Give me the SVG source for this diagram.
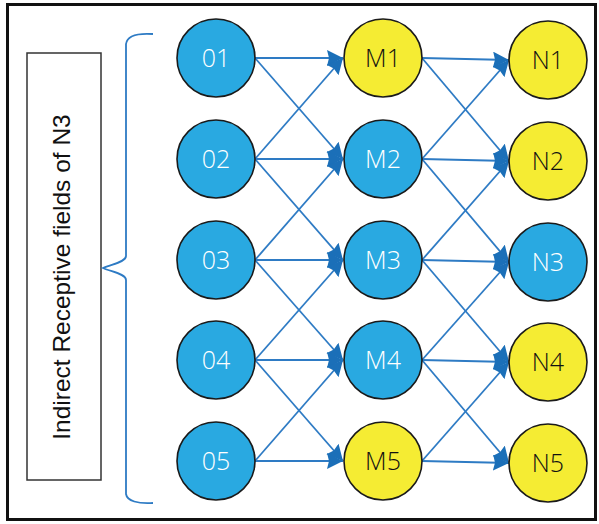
<svg xmlns="http://www.w3.org/2000/svg" width="599" height="524" viewBox="0 0 599 524">
<style>
.blue{fill:#29A9E1;stroke:#1a1a1a;stroke-width:1.6}
.yellow{fill:#F5EC33;stroke:#1a1a1a;stroke-width:1.6}
.tw{font-family:"Open Sans","Liberation Sans",sans-serif;font-size:25px;font-weight:300;fill:#ffffff;text-anchor:middle}
.tb{font-family:"Open Sans","Liberation Sans",sans-serif;font-size:25px;font-weight:300;fill:#111111;text-anchor:middle}
.edge{stroke:#2E7BC4;stroke-width:1.8;fill:none;marker-end:url(#ah)}
</style>
<defs>
<marker id="ah" markerUnits="userSpaceOnUse" markerWidth="20" markerHeight="18" refX="16" refY="8" orient="auto">
<path d="M0,0 L16,8 L0,16 L2,8 z" fill="#1B6FB8"/>
</marker>
</defs>
<rect x="0" y="0" width="599" height="524" fill="#ffffff"/>
<rect x="7.5" y="4.5" width="588" height="515" fill="none" stroke="#111111" stroke-width="3"/>
<g id="label">
<rect x="27" y="53" width="74" height="427" fill="#ffffff" stroke="#333333" stroke-width="1.5"/>
<text transform="translate(70,277) rotate(-90)" font-family="Liberation Sans, Arial, sans-serif" font-size="24.5" fill="#111111" text-anchor="middle">Indirect Receptive fields of N3</text>
</g>
<g id="brace">
<path d="M153,34 C138,33 127,36 126,44 L126,256 C126,262 112,264 103,268 C112,272 126,274 126,280 L126,494 C127,501 138,504 153,503" fill="none" stroke="#2E7BC4" stroke-width="1.8"/>
</g>
<g id="connectors">
<line class="edge" x1="255" y1="58" x2="343" y2="58"/>
<line class="edge" x1="255" y1="58" x2="343" y2="159"/>
<line class="edge" x1="255" y1="159" x2="343" y2="58"/>
<line class="edge" x1="255" y1="159" x2="343" y2="159"/>
<line class="edge" x1="255" y1="159" x2="343" y2="260"/>
<line class="edge" x1="255" y1="260" x2="343" y2="159"/>
<line class="edge" x1="255" y1="260" x2="343" y2="260"/>
<line class="edge" x1="255" y1="260" x2="343" y2="360"/>
<line class="edge" x1="255" y1="360" x2="343" y2="260"/>
<line class="edge" x1="255" y1="360" x2="343" y2="360"/>
<line class="edge" x1="255" y1="360" x2="343" y2="461"/>
<line class="edge" x1="255" y1="461" x2="343" y2="360"/>
<line class="edge" x1="255" y1="461" x2="343" y2="461"/>
<line class="edge" x1="422" y1="58" x2="509" y2="60"/>
<line class="edge" x1="422" y1="58" x2="509" y2="161"/>
<line class="edge" x1="422" y1="159" x2="509" y2="60"/>
<line class="edge" x1="422" y1="159" x2="509" y2="161"/>
<line class="edge" x1="422" y1="159" x2="509" y2="262"/>
<line class="edge" x1="422" y1="260" x2="509" y2="161"/>
<line class="edge" x1="422" y1="260" x2="509" y2="262"/>
<line class="edge" x1="422" y1="260" x2="509" y2="362"/>
<line class="edge" x1="422" y1="360" x2="509" y2="262"/>
<line class="edge" x1="422" y1="360" x2="509" y2="362"/>
<line class="edge" x1="422" y1="360" x2="509" y2="463"/>
<line class="edge" x1="422" y1="461" x2="509" y2="362"/>
<line class="edge" x1="422" y1="461" x2="509" y2="463"/>
</g>
<g id="O1"><circle class="blue" cx="216" cy="58" r="39"/><text class="tw" x="216" y="67">01</text></g>
<g id="O2"><circle class="blue" cx="216" cy="159" r="39"/><text class="tw" x="216" y="168">02</text></g>
<g id="O3"><circle class="blue" cx="216" cy="260" r="39"/><text class="tw" x="216" y="269">03</text></g>
<g id="O4"><circle class="blue" cx="216" cy="360" r="39"/><text class="tw" x="216" y="369">04</text></g>
<g id="O5"><circle class="blue" cx="216" cy="461" r="39"/><text class="tw" x="216" y="470">05</text></g>
<g id="M1"><circle class="yellow" cx="383" cy="58" r="39"/><text class="tb" x="383" y="67">M1</text></g>
<g id="M2"><circle class="blue" cx="383" cy="159" r="39"/><text class="tw" x="383" y="168">M2</text></g>
<g id="M3"><circle class="blue" cx="383" cy="260" r="39"/><text class="tw" x="383" y="269">M3</text></g>
<g id="M4"><circle class="blue" cx="383" cy="360" r="39"/><text class="tw" x="383" y="369">M4</text></g>
<g id="M5"><circle class="yellow" cx="383" cy="461" r="39"/><text class="tb" x="383" y="470">M5</text></g>
<g id="N1"><circle class="yellow" cx="548" cy="60" r="39"/><text class="tb" x="548" y="69">N1</text></g>
<g id="N2"><circle class="yellow" cx="548" cy="161" r="39"/><text class="tb" x="548" y="170">N2</text></g>
<g id="N3"><circle class="blue" cx="548" cy="262" r="39"/><text class="tw" x="548" y="271">N3</text></g>
<g id="N4"><circle class="yellow" cx="548" cy="362" r="39"/><text class="tb" x="548" y="371">N4</text></g>
<g id="N5"><circle class="yellow" cx="548" cy="463" r="39"/><text class="tb" x="548" y="472">N5</text></g>
</svg>
